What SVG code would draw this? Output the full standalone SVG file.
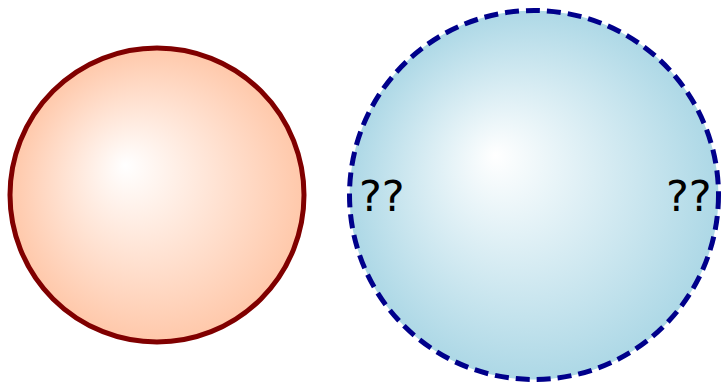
<svg xmlns="http://www.w3.org/2000/svg" width="721" height="387" viewBox="0 0 721 387">
<defs>
<radialGradient id="gRed" cx="157" cy="195" r="147" fx="125" fy="165" gradientUnits="userSpaceOnUse">
<stop offset="0" stop-color="#ffffff"/>
<stop offset="1" stop-color="#ffc8aa"/>
</radialGradient>
<radialGradient id="gBlue" cx="534" cy="195" r="184.5" fx="495" fy="155" gradientUnits="userSpaceOnUse">
<stop offset="0" stop-color="#ffffff"/>
<stop offset="1" stop-color="#add8e6"/>
</radialGradient>
<style>
.lbl{font-family:"DejaVu Sans",sans-serif;font-size:43px;fill:#000}
</style>
</defs>
<rect width="721" height="387" fill="#ffffff"/>
<g id="nodeA">
<circle cx="157" cy="195" r="147" fill="url(#gRed)" stroke="#800000" stroke-width="5"/>
</g>
<g id="nodeB">
<circle cx="534" cy="195" r="184.5" fill="url(#gBlue)" stroke="#00008b" stroke-width="5" stroke-dasharray="14,7"/>
<text class="lbl" x="359" y="211">??</text>
<text class="lbl" x="666" y="211">??</text>
</g>
<g id="connectors"/>
</svg>
